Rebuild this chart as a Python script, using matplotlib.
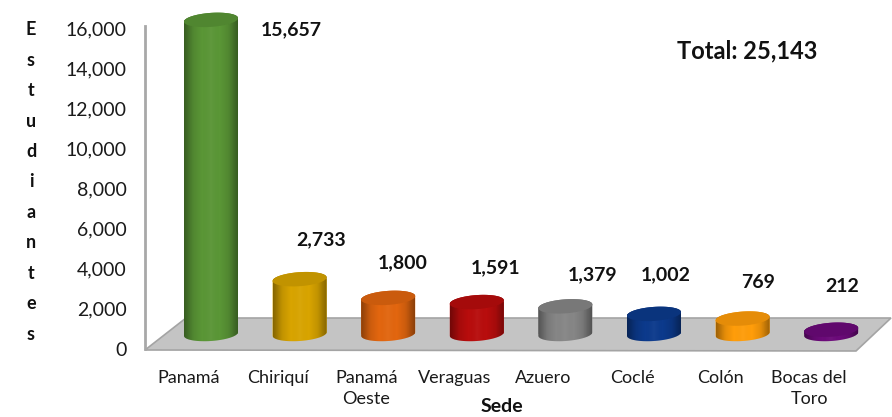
import numpy as np
import matplotlib
matplotlib.use("Agg")
import matplotlib.pyplot as plt
from matplotlib.patches import Polygon
from matplotlib.colors import LinearSegmentedColormap
from matplotlib.transforms import ScaledTranslation

plt.rcParams['font.family'] = ['Lato', 'DejaVu Sans']

categories = ['Panamá', 'Chiriquí', 'Panamá\nOeste', 'Veraguas', 'Azuero', 'Coclé', 'Colón', 'Bocas del\nToro']
students = [15657, 2733, 1800, 1591, 1379, 1002, 769, 212]
value_labels = ['15,657', '2,733', '1,800', '1,591', '1,379', '1,002', '769', '212']
y_ticks = [0, 2000, 4000, 6000, 8000, 10000, 12000, 14000, 16000]
y_tick_labels = ['0', '2,000', '4,000', '6,000', '8,000', '10,000', '12,000', '14,000', '16,000']
colors = ['#5a9636', '#d8a400', '#e2660f', '#b80d0d', '#868686', '#0c3a8c', '#ff9d0a', '#6c0a7a']

W, H = 892, 417
fig = plt.figure(figsize=(W / 100, H / 100), dpi=100, facecolor='white')
L, R, T, B = 145, 892, 28, 349
ax = fig.add_axes([L / W, 1 - B / H, (R - L) / W, (B - T) / H])
px_per_cat = 88.6
x0_px = 211
ax.set_xlim((L - x0_px) / px_per_cat, (R - x0_px) / px_per_cat)
ax.set_ylim(0, 16000)
per_px = 16000 / (B - T)

for s in ['top', 'right', 'bottom']:
    ax.spines[s].set_visible(False)
ax.spines['left'].set_color('#a8a8a8')
ax.spines['left'].set_linewidth(2)
ax.spines['left'].set_bounds(0, 16100)

ax.set_yticks(y_ticks, y_tick_labels)
ax.set_xticks(range(len(categories)), categories)
ax.tick_params(axis='both', length=0, colors='#1a1a1a')
ax.tick_params(axis='y', pad=13, labelsize=14)
ax.tick_params(axis='x', pad=15, labelsize=13)
shift = ScaledTranslation(-22 / 100, 0, fig.dpi_scale_trans)
for t in ax.get_xticklabels():
    t.set_linespacing(1.4)
    t.set_transform(t.get_transform() + shift)


def px(xp, yp):
    return ((xp - x0_px) / px_per_cat, (B - yp) * per_px)


floor = Polygon([px(145, 350), px(186, 318), px(891, 318), px(856, 351)], closed=True,
                facecolor='#c4c4c4', edgecolor='#a4a4a4', lw=1.2, zorder=1, clip_on=False)
ax.add_patch(floor)

base = (B - 334) * per_px
half_w = 27 / px_per_cat
half_h = 7 * per_px
shear = 1.8 * per_px
t = np.linspace(0, 2 * np.pi, 121)


def ring(i, level, angles):
    return np.column_stack([i + half_w * np.cos(angles),
                            level + half_h * np.sin(angles) + shear * np.cos(angles)])


shade = LinearSegmentedColormap.from_list('s', [(0, 0, 0, 0.38), (0, 0, 0, 0.10), (0, 0, 0, 0.0), (1, 1, 1, 0.04),
                                                 (0, 0, 0, 0.0), (0, 0, 0, 0.10), (0, 0, 0, 0.38)])
grad = np.linspace(0, 1, 64).reshape(1, -1)

bars = ax.bar(range(len(students)), students, width=2 * half_w, bottom=base,
              color=colors, zorder=3)
for i, (v, c, bar) in enumerate(zip(students, colors, bars)):
    top = base + v
    lower = ring(i, base, np.linspace(np.pi, 2 * np.pi, 60))
    upper = ring(i, top, np.linspace(0, np.pi, 60))
    body = Polygon(np.vstack([lower, upper]), closed=True, facecolor=c, edgecolor='none',
                   zorder=2.9, clip_on=False)
    ax.add_patch(body)
    bar.set_clip_path(body)
    bar.set_clip_box(fig.bbox)
    im = ax.imshow(grad, cmap=shade, extent=(i - half_w, i + half_w, base - 2 * half_h, top + 2 * half_h),
                   aspect='auto', zorder=3.5, interpolation='bilinear')
    im.set_clip_path(body)
    im.set_clip_box(fig.bbox)
    cap = Polygon(ring(i, top, t), closed=True, facecolor=c, edgecolor='none', zorder=4, clip_on=False)
    ax.add_patch(cap)
    cap_dark = Polygon(ring(i, top, t), closed=True, facecolor=(0, 0, 0, 0.10), edgecolor='none', zorder=4.1, clip_on=False)
    ax.add_patch(cap_dark)

ax.set_xlim((L - x0_px) / px_per_cat, (R - x0_px) / px_per_cat)
ax.set_ylim(0, 16000)

offsets_px = [(80, -10), (21, 39), (15, 35), (19, 34), (27, 32), (12, 39), (15, 36), (11, 43)]
for i, (v, lab, off) in enumerate(zip(students, value_labels, offsets_px)):
    ax.annotate(lab, xy=(i, base + v), xytext=(off[0] * 0.72, off[1] * 0.72), textcoords='offset points',
                ha='center', va='center', fontsize=14, fontweight='bold', color='#111111', zorder=6,
                annotation_clip=False)

fig.text(747 / W, 1 - 51 / H, 'Total: 25,143', ha='center', va='center', fontsize=17, fontweight='bold', color='#111111')
fig.text(502 / W, 1 - 407 / H, 'Sede', ha='center', va='center', fontsize=14, fontweight='bold', color='#111111')
fig.text(31 / W, 1 - 182 / H, 'E\ns\nt\nu\nd\ni\na\nn\nt\ne\ns', ha='center', va='center', fontsize=13,
         fontweight='bold', color='#111111', linespacing=1.96)

fig.savefig('out.png', dpi=100)
